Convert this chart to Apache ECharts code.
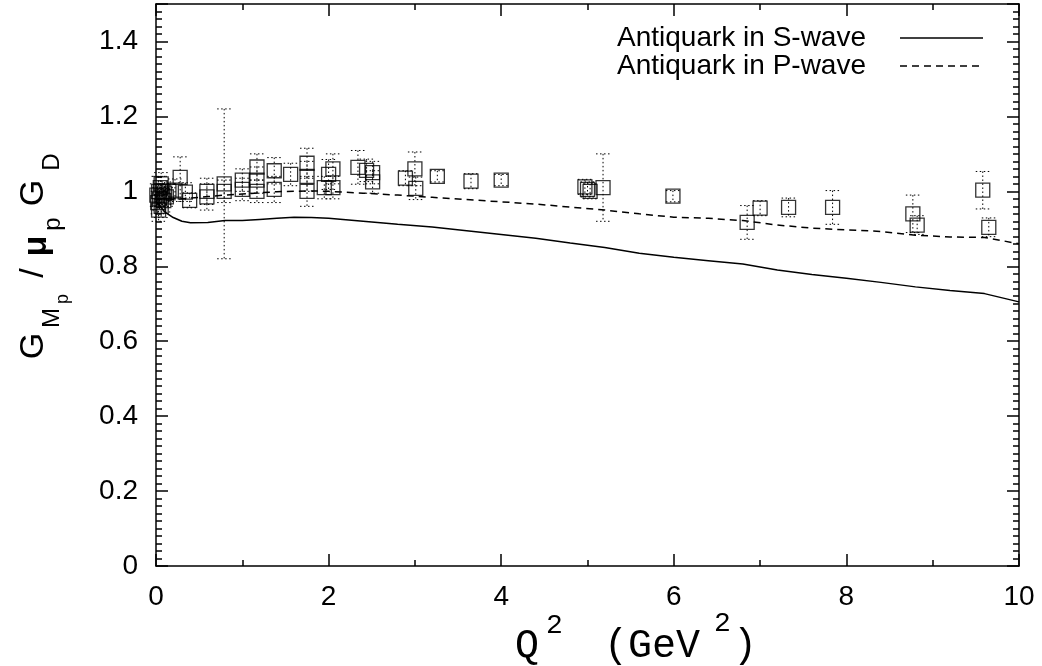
<!DOCTYPE html>
<html>
<head>
<meta charset="utf-8">
<script src="https://cdn.jsdelivr.net/npm/echarts@6/dist/echarts.min.js"></script>
<style>
  html, body { margin: 0; padding: 0; background: #fff; }
  #chart { width: 1042px; height: 666px; }
</style>
</head>
<body>
<div id="chart"></div>
<script>
// theory curves: antiquark in S-wave (solid) and P-wave (dashed)
const sWaveX = [0, 0.05, 0.1, 0.2, 0.3, 0.4, 0.6, 0.8, 1.0, 1.2, 1.4, 1.6, 1.8, 2.0, 2.4, 2.8, 3.2, 3.6, 4.0, 4.4, 4.8, 5.2, 5.6, 6.0, 6.4, 6.8, 7.2, 7.6, 8.0, 8.4, 8.8, 9.2, 9.6, 10];
const sWaveY = [0.975, 0.96, 0.945, 0.93, 0.92, 0.916, 0.917, 0.922, 0.922, 0.925, 0.928, 0.931, 0.93, 0.928, 0.92, 0.912, 0.905, 0.895, 0.885, 0.875, 0.862, 0.85, 0.835, 0.824, 0.815, 0.806, 0.79, 0.778, 0.768, 0.757, 0.745, 0.735, 0.727, 0.705];
const pWaveX = [0, 0.1, 0.2, 0.4, 0.6, 0.8, 1.0, 1.2, 1.4, 1.6, 1.8, 2.0, 2.4, 2.8, 3.2, 3.6, 4.0, 4.4, 4.8, 5.2, 5.6, 6.0, 6.4, 6.8, 7.2, 7.6, 8.0, 8.4, 8.8, 9.2, 9.6, 10];
const pWaveY = [0.965, 0.975, 0.978, 0.982, 0.986, 0.99, 0.993, 0.996, 0.999, 1.0, 1.001, 1.0, 0.995, 0.99, 0.984, 0.978, 0.972, 0.966, 0.958, 0.95, 0.94, 0.931, 0.928, 0.922, 0.91, 0.902, 0.897, 0.893, 0.883, 0.878, 0.877, 0.86];

// measured points with errors
const ptX = [0.01, 0.02, 0.03, 0.04, 0.05, 0.06, 0.07, 0.08, 0.09, 0.1, 0.12, 0.03, 0.06, 0.15,
  0.22, 0.28, 0.34, 0.39, 0.59, 0.59, 0.79, 0.79, 1.0, 1.0, 1.17, 1.17, 1.17, 1.37, 1.37, 1.56,
  1.75, 1.75, 1.75, 1.95, 2.0, 2.05, 2.05, 2.34, 2.44, 2.51, 2.51, 2.89, 3.0, 3.01, 3.26, 3.65, 4.0,
  4.97, 5.0, 5.03, 5.18, 5.99, 6.85, 7.0, 7.33, 7.84, 8.77, 8.82, 9.58, 9.65];
const ptY = [0.99, 0.97, 1.0, 0.98, 1.01, 0.96, 0.99, 1.0, 0.975, 0.995, 0.985, 0.95, 1.02, 1.0,
  1.003, 1.037, 0.998, 0.976, 0.985, 1.0, 1.02, 1.0, 1.005, 1.03, 1.0, 1.03, 1.065, 1.005, 1.055, 1.045,
  1.0, 1.04, 1.075, 1.01, 1.045, 1.06, 1.01, 1.064, 1.056, 1.05, 1.025, 1.035, 1.06, 1.008, 1.04, 1.027, 1.03,
  1.012, 1.005, 1.0, 1.01, 0.987, 0.917, 0.955, 0.957, 0.957, 0.94, 0.91, 1.003, 0.904];
const ptErr = [0.03, 0.03, 0.04, 0.03, 0.03, 0.03, 0.03, 0.02, 0.03, 0.03, 0.025, 0.03, 0.03, 0.02,
  0.03, 0.055, 0.025, 0.02, 0.035, 0.035, 0.2, 0.03, 0.03, 0.03, 0.03, 0.035, 0.035, 0.035, 0.035, 0.03,
  0.04, 0.04, 0.04, 0.03, 0.04, 0.04, 0.03, 0.045, 0.03, 0.03, 0.03, 0.02, 0.045, 0.03, 0.015, 0.02, 0.015,
  0.02, 0.02, 0.02, 0.09, 0.015, 0.045, 0.02, 0.025, 0.045, 0.05, 0.025, 0.05, 0.025];

const legendNames = ['Antiquark in S-wave', 'Antiquark in P-wave'];

const chart = echarts.init(document.getElementById('chart'));

const sData = sWaveX.map((x, i) => [x, sWaveY[i]]);
const pData = pWaveX.map((x, i) => [x, pWaveY[i]]);
const ptData = ptX.map((x, i) => [x, ptY[i], ptErr[i]]);

const black = '#000';
const font = 'Liberation Sans, Arial, sans-serif';
const mono = 'Liberation Mono, monospace';

function xAxisDef(pos, labels) {
  return {
    type: 'value', position: pos, min: 0, max: 10, interval: 2,
    axisLine: { onZero: false, lineStyle: { color: black, width: 1.5 } },
    axisTick: { inside: true, length: 12, lineStyle: { color: black, width: 1.5 } },
    minorTick: { show: true, splitNumber: 2, length: 6, lineStyle: { color: black, width: 1.5 } },
    axisLabel: { show: labels, fontSize: 28, color: black, fontFamily: font, margin: 17 },
    splitLine: { show: false }
  };
}
// major (0.2) and minor (0.02) ticks are drawn by two overlapping axes
function yAxisDef(pos, labels, step, tickLen) {
  return {
    type: 'value', position: pos, min: 0, max: 1.5, interval: step,
    axisLine: { show: step === 0.2, onZero: false, lineStyle: { color: black, width: 1.5 } },
    axisTick: { inside: true, length: tickLen, lineStyle: { color: black, width: 1.5 } },
    axisLabel: {
      show: labels, fontSize: 28, color: black, fontFamily: font, margin: 18,
      formatter: v => (v > 1.45 ? '' : String(Math.round(v * 10) / 10))
    },
    splitLine: { show: false }
  };
}

// rotated piece of the y title
function yTitle(text, x, y, size, bold) {
  return {
    type: 'text', x: x, y: y, rotation: Math.PI / 2,
    style: { text: text, font: (bold ? 'bold ' : '') + size + 'px ' + font, fill: black, align: 'center', verticalAlign: 'middle' }
  };
}

const option = {
  animation: false,
  backgroundColor: '#fff',
  grid: { left: 156, right: 23, top: 4, bottom: 100 },
  xAxis: [xAxisDef('bottom', true), xAxisDef('top', false)],
  yAxis: [
    yAxisDef('left', true, 0.2, 12),
    yAxisDef('left', false, 0.02, 6),
    yAxisDef('right', false, 0.2, 12),
    yAxisDef('right', false, 0.02, 6)
  ],
  series: [
    {
      name: legendNames[0], type: 'line', data: sData, symbol: 'none',
      lineStyle: { color: black, width: 1.5 }
    },
    {
      name: legendNames[1], type: 'line', data: pData, symbol: 'none',
      lineStyle: { color: black, width: 1.5, type: [7, 5] }
    },
    {
      type: 'custom', data: ptData, encode: { x: 0, y: 1 },
      renderItem: function (params, api) {
        const x = api.value(0), y = api.value(1), e = api.value(2);
        const top = api.coord([x, y + e]);
        const bot = api.coord([x, y - e]);
        const hw = 7;
        const st = { stroke: black, lineWidth: 1, lineDash: [1.5, 2.5], fill: null };
        return {
          type: 'group',
          children: [
            { type: 'line', shape: { x1: top[0], y1: top[1], x2: bot[0], y2: bot[1] }, style: st },
            { type: 'line', shape: { x1: top[0] - hw, y1: top[1], x2: top[0] + hw, y2: top[1] }, style: st },
            { type: 'line', shape: { x1: bot[0] - hw, y1: bot[1], x2: bot[0] + hw, y2: bot[1] }, style: st }
          ]
        };
      }
    },
    {
      type: 'scatter', data: ptData, symbol: 'rect', symbolSize: 14,
      itemStyle: { color: 'rgba(0,0,0,0)', borderColor: black, borderWidth: 1.3 }
    }
  ],
  graphic: [
    // legend
    { type: 'text', right: 1042 - 866, top: 24, style: { text: legendNames[0], font: '28px ' + font, fill: black } },
    { type: 'text', right: 1042 - 866, top: 52, style: { text: legendNames[1], font: '28px ' + font, fill: black } },
    { type: 'line', shape: { x1: 900, y1: 38, x2: 983, y2: 38 }, style: { stroke: black, lineWidth: 1.5 } },
    { type: 'line', shape: { x1: 900, y1: 66, x2: 983, y2: 66 }, style: { stroke: black, lineWidth: 1.5, lineDash: [7, 5] } },
    // x axis title
    { type: 'text', x: 515, y: 646, style: { text: 'Q', font: '40px ' + mono, fill: black, verticalAlign: 'middle' } },
    { type: 'text', x: 546, y: 626, style: { text: '2', font: '28px ' + mono, fill: black, verticalAlign: 'middle' } },
    { type: 'text', x: 604, y: 646, style: { text: '(GeV', font: '40px ' + mono, fill: black, verticalAlign: 'middle' } },
    { type: 'text', x: 714, y: 624, style: { text: '2', font: '28px ' + mono, fill: black, verticalAlign: 'middle' } },
    { type: 'text', x: 733, y: 646, style: { text: ')', font: '40px ' + mono, fill: black, verticalAlign: 'middle' } },
    // y axis title, reads bottom to top
    yTitle('G', 34, 346, 34),
    yTitle('M', 52, 318, 24),
    yTitle('p', 63, 299, 18),
    yTitle('/', 34, 273, 34),
    yTitle('μ', 37, 246, 34, true),
    yTitle('p', 53, 224, 24),
    yTitle('G', 34, 193, 34),
    yTitle('D', 52, 162, 24)
  ]
};

chart.setOption(option);
</script>
</body>
</html>
